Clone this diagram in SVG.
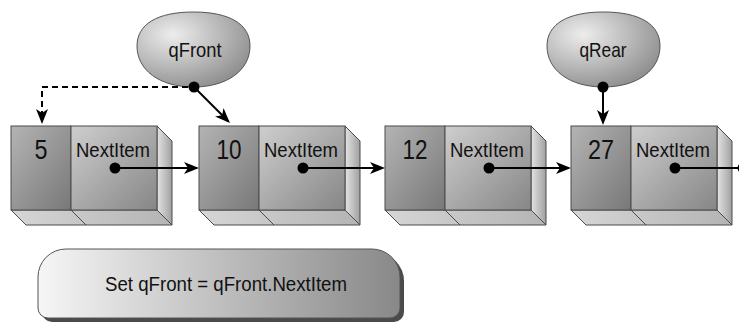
<svg xmlns="http://www.w3.org/2000/svg" xmlns:xlink="http://www.w3.org/1999/xlink" width="739" height="326" viewBox="0 0 739 326">
  <style>
    .lbl { font-family: "Liberation Sans", Arial, sans-serif; fill: #111; }
    .num { font-size: 28px; text-anchor: middle; }
    .fld { font-size: 21px; }
    .ptr { font-size: 21px; text-anchor: middle; }
    .edge { stroke: #4a4a4a; stroke-width: 1; }
    .link { stroke: #000; stroke-width: 2; fill: none; }
    .dash { stroke-dasharray: 6 4; }
    .dot { fill: #000; }
  </style>
  <defs>
    <linearGradient id="gLeft" x1="0" y1="0" x2="1" y2="1">
      <stop offset="0" stop-color="#b4b4b4"/>
      <stop offset="1" stop-color="#787878"/>
    </linearGradient>
    <linearGradient id="gRight" x1="0" y1="0" x2="1" y2="1">
      <stop offset="0" stop-color="#cecece"/>
      <stop offset="1" stop-color="#868686"/>
    </linearGradient>
    <linearGradient id="gSide" x1="0" y1="0" x2="1" y2="0">
      <stop offset="0" stop-color="#e4e4e4"/>
      <stop offset="1" stop-color="#a0a0a0"/>
    </linearGradient>
    <linearGradient id="gBottom" x1="0" y1="0" x2="1" y2="0">
      <stop offset="0" stop-color="#d6d6d6"/>
      <stop offset="1" stop-color="#b4b4b4"/>
    </linearGradient>
    <radialGradient id="gBlob" cx="0.32" cy="0.3" r="0.8">
      <stop offset="0" stop-color="#ededed"/>
      <stop offset="1" stop-color="#8a8a8a"/>
    </radialGradient>
    <linearGradient id="gNote" x1="0" y1="0" x2="1" y2="0">
      <stop offset="0" stop-color="#f6f6f6"/>
      <stop offset="1" stop-color="#888888"/>
    </linearGradient>

    <!-- 3D list cell: value part, pointer part, right side and bottom faces -->
    <g id="cell">
      <polygon points="146,0 161,15 161,99 146,84" fill="url(#gSide)" class="edge"/>
      <polygon points="0,84 146,84 161,99 15,99" fill="url(#gBottom)" class="edge"/>
      <line x1="60" y1="84" x2="75" y2="99" class="edge"/>
      <rect x="0" y="0" width="60" height="84" fill="url(#gLeft)" class="edge"/>
      <rect x="60" y="0" width="86" height="84" fill="url(#gRight)" class="edge"/>
    </g>

    <!-- pointer variable bubble, centred on 0,0 -->
    <path id="blob" d="M-56.5,0 C-56.5,-22 -36,-34 0,-34 C36,-34 56.5,-22 56.5,0 C56.5,24 34,41 0,41 C-34,41 -56.5,24 -56.5,0 Z" fill="url(#gBlob)" stroke="#555" stroke-width="1"/>

    <marker id="arrow" markerUnits="userSpaceOnUse" markerWidth="16" markerHeight="12" refX="13" refY="6" orient="auto">
      <path d="M0,0 L15,6 L0,12 L4,6 Z" fill="#000"/>
    </marker>
  </defs>

  <!-- pointer variables -->
  <g id="qFront">
    <use xlink:href="#blob" href="#blob" transform="translate(193.5,46)"/>
    <text class="lbl ptr" x="195" y="57" textLength="53" lengthAdjust="spacingAndGlyphs">qFront</text>
  </g>
  <g id="qRear">
    <use xlink:href="#blob" href="#blob" transform="translate(603.5,46)"/>
    <text class="lbl ptr" x="603" y="57" textLength="47" lengthAdjust="spacingAndGlyphs">qRear</text>
  </g>

  <!-- queue nodes -->
  <g id="node5" transform="translate(11,126)">
    <use xlink:href="#cell" href="#cell"/>
    <text class="lbl num" x="30" y="33" textLength="13" lengthAdjust="spacingAndGlyphs">5</text>
    <text class="lbl fld" x="65" y="31" textLength="74" lengthAdjust="spacingAndGlyphs">NextItem</text>
  </g>
  <g id="node10" transform="translate(199,126)">
    <use xlink:href="#cell" href="#cell"/>
    <text class="lbl num" x="30" y="33" textLength="25" lengthAdjust="spacingAndGlyphs">10</text>
    <text class="lbl fld" x="65" y="31" textLength="74" lengthAdjust="spacingAndGlyphs">NextItem</text>
  </g>
  <g id="node12" transform="translate(385,126)">
    <use xlink:href="#cell" href="#cell"/>
    <text class="lbl num" x="30" y="33" textLength="25" lengthAdjust="spacingAndGlyphs">12</text>
    <text class="lbl fld" x="65" y="31" textLength="74" lengthAdjust="spacingAndGlyphs">NextItem</text>
  </g>
  <g id="node27" transform="translate(571,126)">
    <use xlink:href="#cell" href="#cell"/>
    <text class="lbl num" x="30" y="33" textLength="26" lengthAdjust="spacingAndGlyphs">27</text>
    <text class="lbl fld" x="65" y="31" textLength="74" lengthAdjust="spacingAndGlyphs">NextItem</text>
  </g>

  <!-- statement box -->
  <g id="statement">
    <path d="M42,281 A28,28 0 0 1 70,253 H376 A28,28 0 0 1 404,281 V312 A10,10 0 0 1 394,322 H52 A10,10 0 0 1 42,312 Z" fill="#4a4a4a"/>
    <path d="M38,277 A28,28 0 0 1 66,249 H372 A28,28 0 0 1 400,277 V308 A10,10 0 0 1 390,318 H48 A10,10 0 0 1 38,308 Z" fill="url(#gNote)" stroke="#555" stroke-width="1"/>
    <text class="lbl" font-size="20" x="226" y="291" text-anchor="middle" textLength="242" lengthAdjust="spacingAndGlyphs">Set qFront = qFront.NextItem</text>
  </g>

  <!-- connectors -->
  <g id="connectors">
    <path class="link dash" d="M188,87 H42 V122" marker-end="url(#arrow)"/>
    <line class="link" x1="194" y1="87" x2="228.5" y2="121.5" marker-end="url(#arrow)"/>
    <line class="link" x1="603" y1="87" x2="603" y2="123" marker-end="url(#arrow)"/>
    <line class="link" x1="115" y1="168" x2="197" y2="168" marker-end="url(#arrow)"/>
    <line class="link" x1="303" y1="168" x2="383" y2="168" marker-end="url(#arrow)"/>
    <line class="link" x1="489" y1="168" x2="569" y2="168" marker-end="url(#arrow)"/>
    <line class="link" x1="675" y1="168" x2="739" y2="168"/>
    <circle class="dot" cx="194" cy="87" r="5.5"/>
    <circle class="dot" cx="603" cy="87" r="5.5"/>
    <circle class="dot" cx="115" cy="168" r="5.5"/>
    <circle class="dot" cx="303" cy="168" r="5.5"/>
    <circle class="dot" cx="489" cy="168" r="5.5"/>
    <circle class="dot" cx="675" cy="168" r="5.5"/>
    <circle class="dot" cx="743" cy="168" r="5.5"/>
  </g>
</svg>
